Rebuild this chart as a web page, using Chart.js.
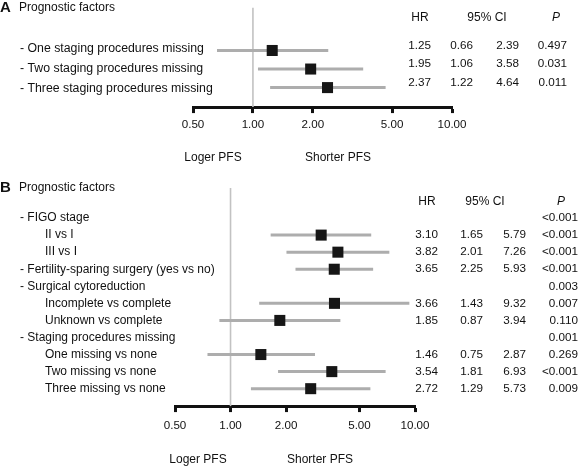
<!DOCTYPE html>
<html>
<head>
<meta charset="utf-8">
<script src="https://cdn.jsdelivr.net/npm/chart.js@4.4.1/dist/chart.umd.min.js"></script>
<style>
  html, body { margin: 0; padding: 0; background: #fff; }
  #wrap { position: relative; width: 580px; height: 467px; }
  canvas { position: absolute; left: 0; }
  #chartA { top: 0; }
  #chartB { top: 172px; }
</style>
</head>
<body>
<div id="wrap">
  <canvas id="chartA" width="580" height="172"></canvas>
  <canvas id="chartB" width="580" height="295"></canvas>
</div>
<script>
// Panel A - staging procedures missing
const labelsA = ['- One staging procedures missing', '- Two staging procedures missing', '- Three staging procedures missing'];
const hrA = [1.25, 1.95, 2.37];
const loA = [0.66, 1.06, 1.22];
const hiA = [2.39, 3.58, 4.64];
const pA = ['0.497', '0.031', '0.011'];

// Panel B - multivariate model
const labelsB = ['- FIGO stage', 'II vs I', 'III vs I', '- Fertility-sparing surgery (yes vs no)', '- Surgical cytoreduction',
  'Incomplete vs complete', 'Unknown vs complete', '- Staging procedures missing', 'One missing vs none',
  'Two missing vs none', 'Three missing vs none'];
const hrB = [null, 3.10, 3.82, 3.65, null, 3.66, 1.85, null, 1.46, 3.54, 2.72];
const loB = [null, 1.65, 2.01, 2.25, null, 1.43, 0.87, null, 0.75, 1.81, 1.29];
const hiB = [null, 5.79, 7.26, 5.93, null, 9.32, 3.94, null, 2.87, 6.93, 5.73];
const pB = ['<0.001', '<0.001', '<0.001', '<0.001', '0.003', '0.007', '0.110', '0.001', '0.269', '<0.001', '0.009'];

const xTicks = [0.5, 1, 2, 5, 10];
const sideLabels = ['Loger PFS', 'Shorter PFS'];

const FONT = '"Liberation Sans", Arial, Helvetica, sans-serif';
Chart.defaults.font.family = FONT;
Chart.defaults.color = '#111';

// reference line at HR = 1 and all the table text
const forestText = {
  id: 'forestText',
  beforeDatasetsDraw(chart) {
    const { ctx, chartArea } = chart;
    const x1 = chart.scales.x.getPixelForValue(1);
    ctx.save();
    ctx.strokeStyle = '#c2c2c2';
    ctx.lineWidth = 1.6;
    ctx.beginPath();
    ctx.moveTo(x1, chartArea.top);
    ctx.lineTo(x1, chartArea.bottom);
    ctx.stroke();
    ctx.restore();
  },
  afterDraw(chart, args, o) {
    const ctx = chart.ctx;
    const ys = chart.scales.y;
    ctx.save();
    ctx.fillStyle = '#111';
    ctx.textBaseline = 'middle';

    ctx.textAlign = 'left';
    ctx.font = 'bold 15px ' + FONT;
    ctx.fillText(o.panel, 0, o.titleY);
    ctx.font = '12px ' + FONT;
    ctx.fillText('Prognostic factors', 19, o.titleY);

    ctx.textAlign = 'center';
    ctx.fillText('HR', o.hdrX[0], o.hdrY);
    ctx.fillText('95% CI', o.hdrX[1], o.hdrY);
    ctx.font = 'italic 12px ' + FONT;
    ctx.fillText('P', o.hdrX[2], o.hdrY);

    ctx.font = '12px ' + FONT;
    ctx.fillText(sideLabels[0], o.sideX[0], o.sideY);
    ctx.fillText(sideLabels[1], o.sideX[1], o.sideY);

    o.labels.forEach((lab, i) => {
      const y = ys.getPixelForValue(i);
      ctx.textAlign = 'left';
      ctx.font = o.labelSize + 'px ' + FONT;
      ctx.fillText(lab, lab.startsWith('-') ? 20 : 45, y + o.labShift * (i - 1));

      const vy = y + o.valShift;
      ctx.textAlign = 'right';
      ctx.font = '11.7px ' + FONT;
      if (o.hr[i] != null) {
        ctx.fillText(o.hr[i].toFixed(2), o.colX[0], vy);
        ctx.fillText(o.lo[i].toFixed(2), o.colX[1], vy);
        ctx.fillText(o.hi[i].toFixed(2), o.colX[2], vy);
      }
      ctx.fillText(o.p[i], o.colX[3], vy);
    });
    ctx.restore();
  }
};

function forestChart(id, labels, hr, lo, hi, p, lay) {
  const ciData = [];
  const hrData = [];
  hr.forEach((h, i) => {
    if (h == null) return;
    ciData.push({ x: lo[i], y: i }, { x: hi[i], y: i }, { x: null, y: null });
    hrData.push({ x: h, y: i });
  });

  return new Chart(document.getElementById(id), {
    type: 'scatter',
    data: {
      datasets: [
        {
          label: 'HR',
          data: hrData,
          order: 0,
          pointStyle: 'rect',
          pointRadius: 7.8,
          backgroundColor: '#161616',
          borderWidth: 0
        },
        {
          label: '95% CI',
          data: ciData,
          order: 1,
          showLine: true,
          spanGaps: false,
          pointRadius: 0,
          borderColor: '#adadad',
          borderWidth: 3,
          borderCapStyle: 'butt'
        }
      ]
    },
    options: {
      responsive: false,
      animation: false,
      devicePixelRatio: 1,
      clip: false,
      layout: { padding: lay.padding },
      plugins: {
        legend: { display: false },
        tooltip: { enabled: false },
        forestText: {
          panel: lay.panel, titleY: lay.titleY, hdrY: lay.hdrY, hdrX: lay.hdrX, colX: lay.colX,
          valShift: lay.valShift, labShift: lay.labShift, labelSize: lay.labelSize,
          sideX: lay.sideX, sideY: lay.sideY,
          labels: labels, hr: hr, lo: lo, hi: hi, p: p
        }
      },
      scales: {
        x: {
          type: 'logarithmic',
          min: 0.5,
          max: 10,
          afterBuildTicks: (s) => { s.ticks = xTicks.map(v => ({ value: v })); },
          ticks: {
            callback: (v) => Number(v).toFixed(2),
            color: '#111',
            font: { size: 11.6 },
            padding: lay.tickPad,
            autoSkip: false,
            maxRotation: 0
          },
          grid: { drawOnChartArea: false, drawTicks: true, tickLength: 6, tickWidth: 3, tickColor: '#111' },
          border: { display: true, color: '#111', width: 3 }
        },
        y: {
          type: 'linear',
          display: false,
          reverse: true,
          min: lay.yMin,
          max: lay.yMax
        }
      }
    },
    plugins: [forestText]
  });
}

forestChart('chartA', labelsA, hrA, loA, hiA, pA, {
  panel: 'A',
  padding: { left: 193, right: 128, top: 5, bottom: 35 },
  yMin: -2.3, yMax: 3.05,
  tickPad: 5,
  titleY: 8, hdrY: 18,
  hdrX: [420, 487, 556],
  colX: [431, 473, 519, 567],
  valShift: -5, labShift: 1.5, labelSize: 12.3,
  sideX: [213, 338], sideY: 158
});

forestChart('chartB', labelsB, hrB, loB, hiB, pB, {
  panel: 'B',
  padding: { left: 175, right: 165, top: 16, bottom: 27 },
  yMin: -1.76, yMax: 11.02,
  tickPad: 7,
  titleY: 16, hdrY: 30,
  hdrX: [427, 485, 561],
  colX: [438, 483, 526, 578],
  valShift: 0, labShift: 0, labelSize: 12,
  sideX: [198, 320], sideY: 288
});
</script>
</body>
</html>
